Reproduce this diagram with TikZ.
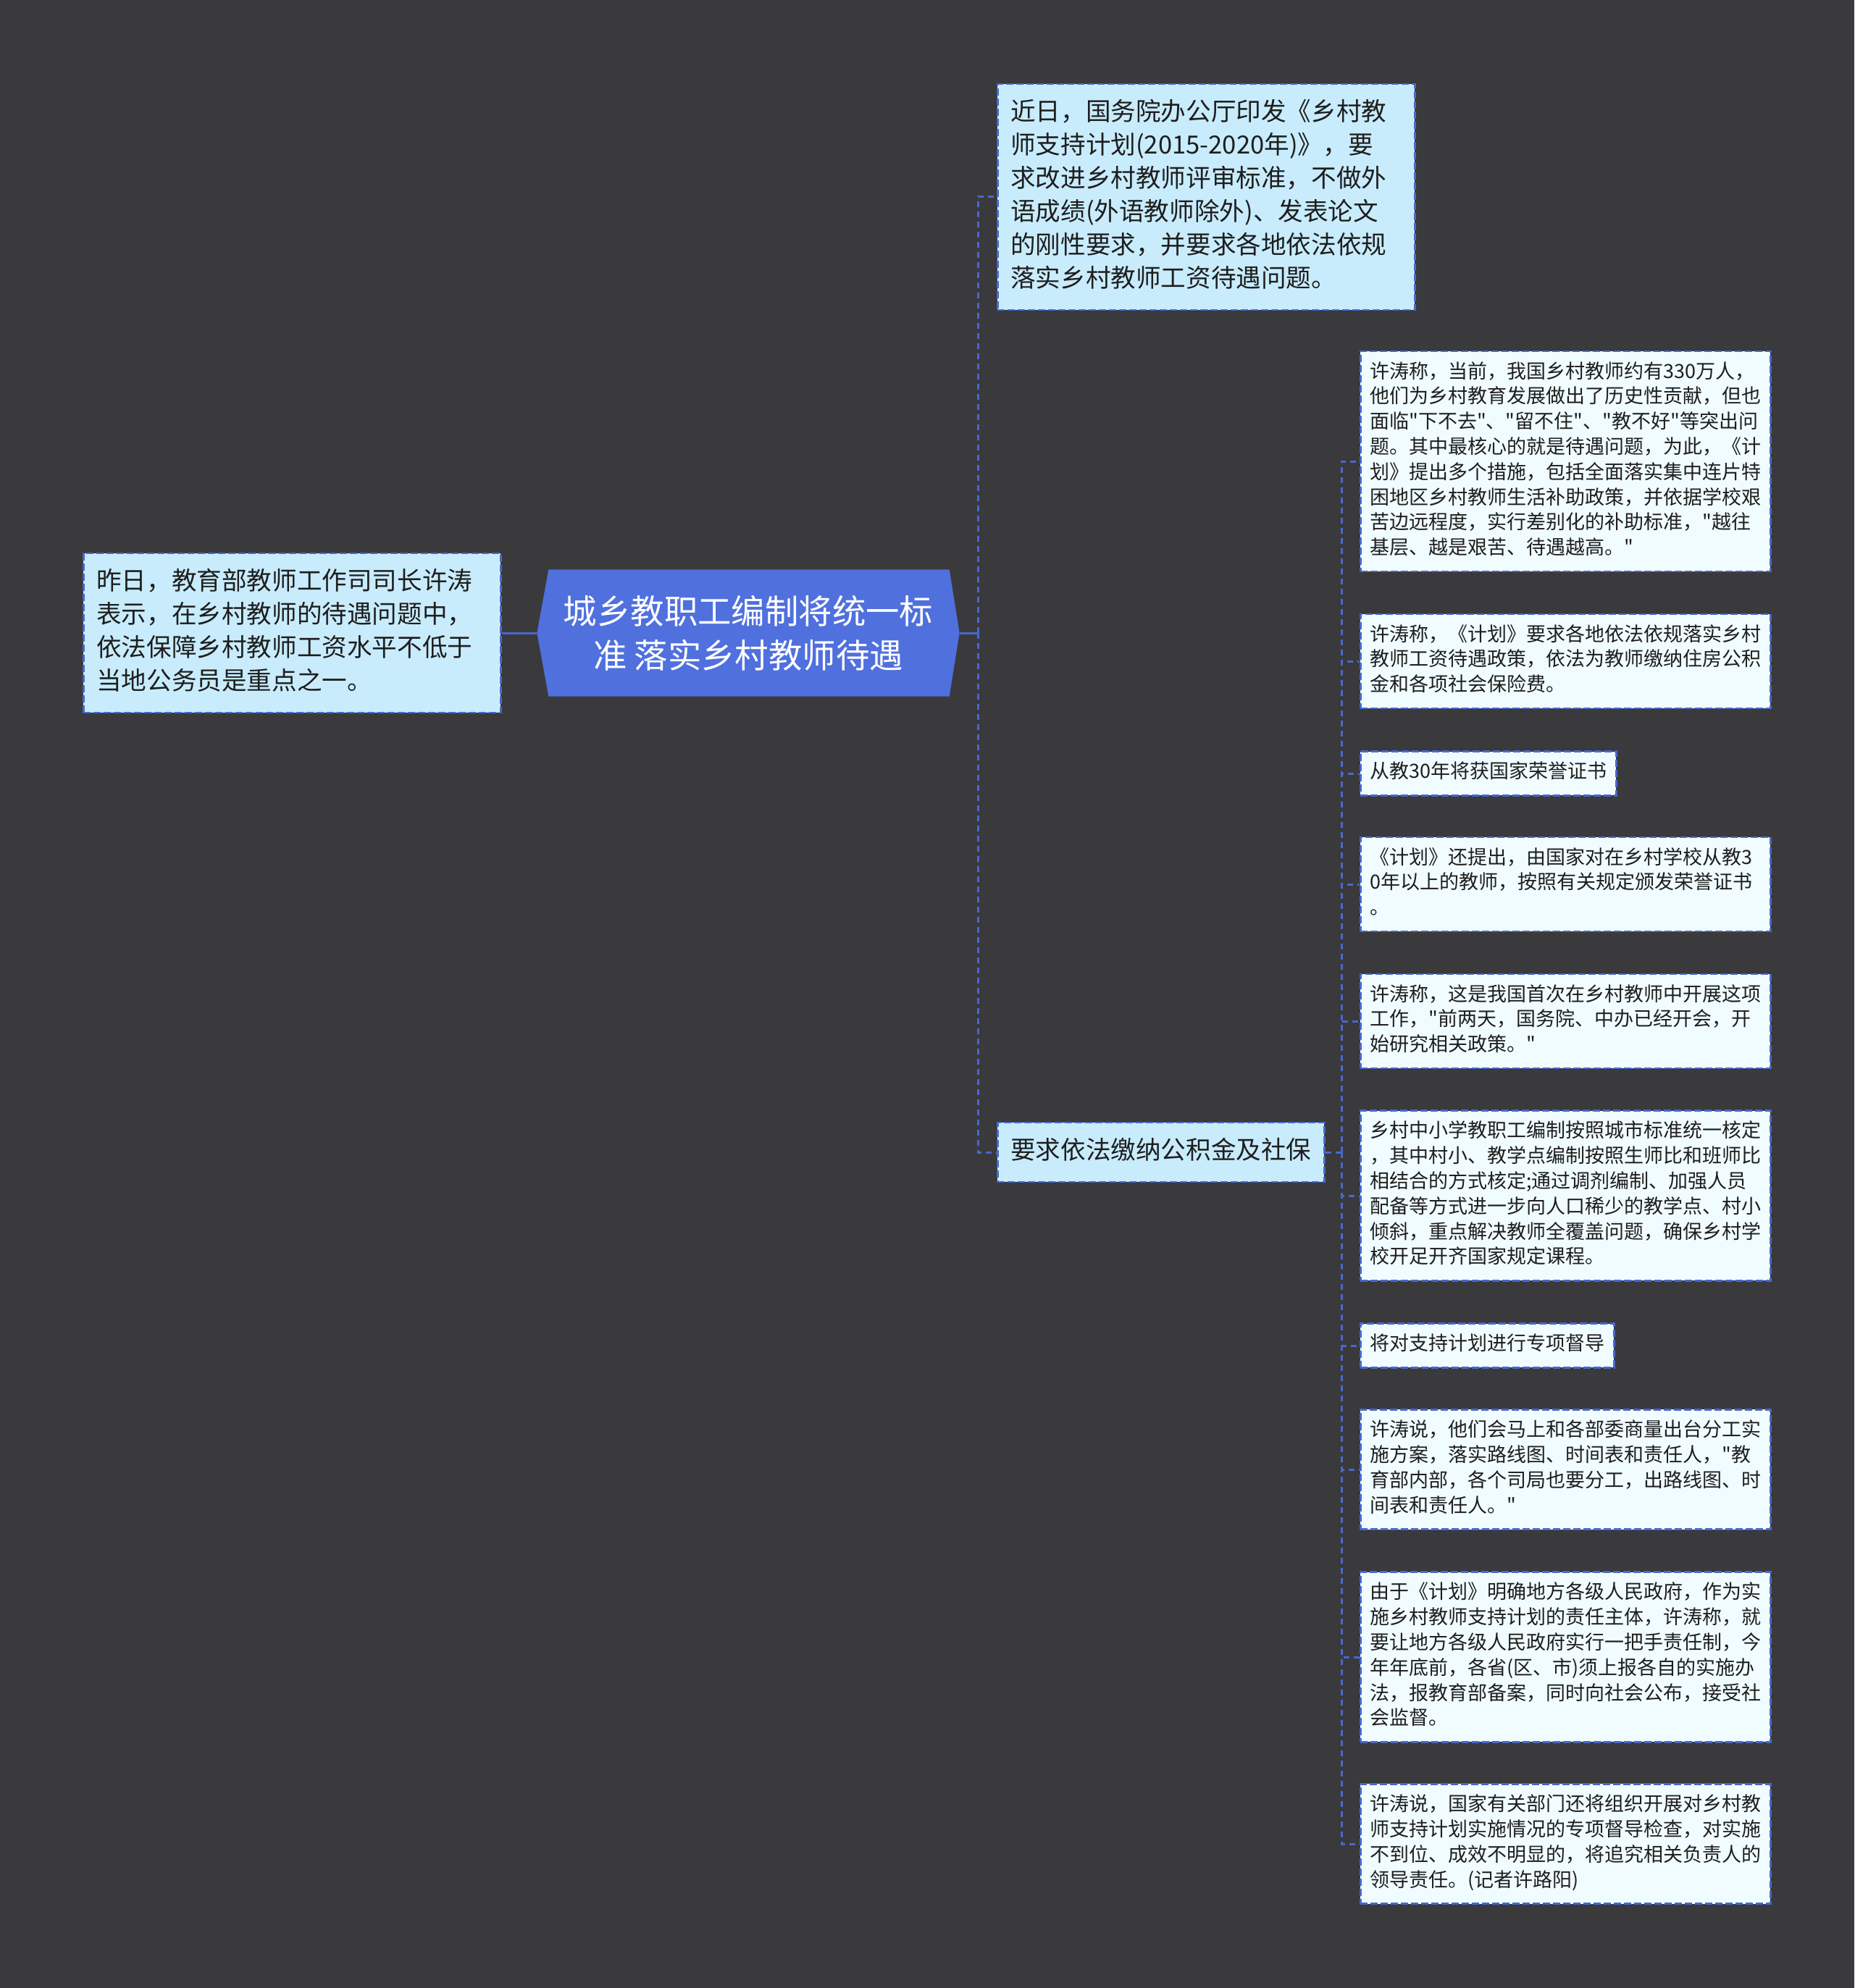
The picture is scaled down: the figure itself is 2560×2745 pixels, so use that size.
\documentclass[tikz,border=0pt]{standalone}
\usepackage{fontspec}
\setmainfont{Noto Sans CJK SC}[Ligatures=TeXOff]
\usetikzlibrary{backgrounds}
\definecolor{bgdark}{RGB}{58,57,60}
\definecolor{ctrfill}{RGB}{80,112,222}
\definecolor{topicfill}{RGB}{200,236,252}
\definecolor{leaffill}{RGB}{240,252,255}
\definecolor{edgeblue}{RGB}{72,104,206}
\definecolor{inkdark}{RGB}{30,30,30}
\newcommand{\pxu}{0.3pt}
\newcommand{\dq}{\symbol{34}}
\tikzset{
  box/.style={draw=edgeblue, line width=0.75pt, dash pattern=on 3pt off 1.2pt,
    text=inkdark, align=left, anchor=west,
    execute at begin node=\strut, execute at end node=\strut},
  topic/.style={box, fill=topicfill, inner xsep=5.4pt, inner ysep=5.4pt,
    font=\fontsize{10.38pt}{13.8pt}\selectfont},
  topicw/.style={topic, text width=162pt},
  leaf/.style={box, fill=leaffill, inner xsep=3.9pt, inner ysep=3.9pt,
    font=\fontsize{8.1pt}{10.44pt}\selectfont},
  leafw/.style={leaf, text width=162pt},
  ctr/.style={text=white, align=center, inner sep=0pt,
    minimum width=174.6pt, minimum height=52.2pt,
    font=\fontsize{13.92pt}{18.3pt}\selectfont},
  link/.style={draw=edgeblue, line width=0.9pt},
  dlink/.style={link, dash pattern=on 2.4pt off 1.8pt},
}
\begin{document}
\begin{tikzpicture}[x=\pxu, y=-\pxu]
  \useasboundingbox (0,0) rectangle (2560,2745);
  %% central topic and first level
  \node[ctr] (ctr) at (1033,874) {城乡教职工编制将统一标\\准 落实乡村教师待遇};
  \node[topicw] (left) at (114,874) {昨日，教育部教师工作司司长许涛\\表示，在乡村教师的待遇问题中，\\依法保障乡村教师工资水平不低于\\当地公务员是重点之一。};
  \node[topicw] (top) at (1376,272) {近日，国务院办公厅印发《乡村教\\师支持计划(2015-2020年)》，要\\求改进乡村教师评审标准，不做外\\语成绩(外语教师除外)、发表论文\\的刚性要求，并要求各地依法依规\\落实乡村教师工资待遇问题。};
  \node[topic] (req) at (1376,1591) {要求依法缴纳公积金及社保};
  %% second level
  \node[leafw] (c1) at (1877,637) {许涛称，当前，我国乡村教师约有330万人，\\他们为乡村教育发展做出了历史性贡献，但也\\面临\dq 下不去\dq 、\dq 留不住\dq 、\dq 教不好\dq 等突出问\\题。其中最核心的就是待遇问题，为此，《计\\划》提出多个措施，包括全面落实集中连片特\\困地区乡村教师生活补助政策，并依据学校艰\\苦边远程度，实行差别化的补助标准，\dq 越往\\基层、越是艰苦、待遇越高。\dq};
  \node[leafw] (c2) at (1877,913) {许涛称，《计划》要求各地依法依规落实乡村\\教师工资待遇政策，依法为教师缴纳住房公积\\金和各项社会保险费。};
  \node[leaf] (c3) at (1877,1068) {从教30年将获国家荣誉证书};
  \node[leafw] (c4) at (1877,1221) {《计划》还提出，由国家对在乡村学校从教3\\0年以上的教师，按照有关规定颁发荣誉证书\\。};
  \node[leafw] (c5) at (1877,1410) {许涛称，这是我国首次在乡村教师中开展这项\\工作，\dq 前两天，国务院、中办已经开会，开\\始研究相关政策。\dq};
  \node[leafw] (c6) at (1877,1651) {乡村中小学教职工编制按照城市标准统一核定\\，其中村小、教学点编制按照生师比和班师比\\相结合的方式核定;通过调剂编制、加强人员\\配备等方式进一步向人口稀少的教学点、村小\\倾斜，重点解决教师全覆盖问题，确保乡村学\\校开足开齐国家规定课程。};
  \node[leaf] (c7) at (1877,1858) {将对支持计划进行专项督导};
  \node[leafw] (c8) at (1877,2029) {许涛说，他们会马上和各部委商量出台分工实\\施方案，落实路线图、时间表和责任人，\dq 教\\育部内部，各个司局也要分工，出路线图、时\\间表和责任人。\dq};
  \node[leafw] (c9) at (1877,2288) {由于《计划》明确地方各级人民政府，作为实\\施乡村教师支持计划的责任主体，许涛称，就\\要让地方各级人民政府实行一把手责任制，今\\年年底前，各省(区、市)须上报各自的实施办\\法，报教育部备案，同时向社会公布，接受社\\会监督。};
  \node[leafw] (c10) at (1877,2546) {许涛说，国家有关部门还将组织开展对乡村教\\师支持计划实施情况的专项督导检查，对实施\\不到位、成效不明显的，将追究相关负责人的\\领导责任。(记者许路阳)};
  %% connectors
  \coordinate (hub) at (1350,874);
  \coordinate (hub2) at (1852,1591);
  \draw[link] (left.east) -- (ctr.west);
  \draw[link] (ctr.east) -- (hub);
  \draw[dlink] (hub) |- (top.west);
  \draw[dlink] (hub) |- (req.west);
  \draw[dlink] (req.east) -- (hub2);
  \foreach \n in {1,...,10}
    \draw[dlink] (hub2) |- (c\n.west);
  %% backdrop and hexagon
  \begin{scope}[on background layer]
    \fill[bgdark] (0,0) rectangle (2560,2745);
    \fill[ctrfill] ([xshift=16*\pxu]ctr.north west) -- ([xshift=-14*\pxu]ctr.north east)
      -- (ctr.east) -- ([xshift=-14*\pxu]ctr.south east)
      -- ([xshift=16*\pxu]ctr.south west) -- (ctr.west) -- cycle;
  \end{scope}
\end{tikzpicture}
\end{document}
